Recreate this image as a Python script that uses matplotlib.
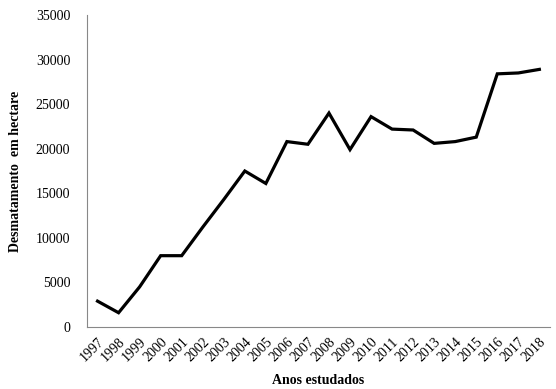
import matplotlib
matplotlib.use("Agg")
import matplotlib.pyplot as plt

anos = [str(a) for a in range(1997, 2019)]
desmatamento = [2900, 1600, 4500, 8000, 8000, 11200, 14300, 17500, 16100, 20800,
                20500, 24000, 19900, 23600, 22200, 22100, 20600, 20800, 21300, 28400,
                28500, 28900]

plt.rcParams['font.family'] = ['Liberation Serif', 'DejaVu Serif']

fig = plt.figure(figsize=(5.56, 3.89), dpi=100)
ax = fig.add_axes([0.1565, 0.1594, 0.8325, 0.802])

x = list(range(len(anos)))
ax.plot(x, desmatamento, color='black', linewidth=2.3, solid_joinstyle='miter')

ax.set_xlim(-0.5, len(anos) - 0.5)
ax.set_ylim(0, 35000)
ax.set_yticks(range(0, 35001, 5000))
ax.set_xticks(x)
ax.set_xticklabels(anos, rotation=45, ha='right', rotation_mode='anchor')
ax.tick_params(axis='both', length=0, labelsize=10)
ax.tick_params(axis='y', pad=12)
ax.tick_params(axis='x', pad=6)

for s in ['top', 'right']:
    ax.spines[s].set_visible(False)
for s in ['left', 'bottom']:
    ax.spines[s].set_color('#888888')
    ax.spines[s].set_linewidth(0.8)

ax.set_ylabel('Desmatamento  em hectare', fontsize=10, fontweight='bold', labelpad=10)
ax.set_xlabel('Anos estudados', fontsize=10, fontweight='bold', labelpad=7)

fig.savefig('out.png', dpi=100)
